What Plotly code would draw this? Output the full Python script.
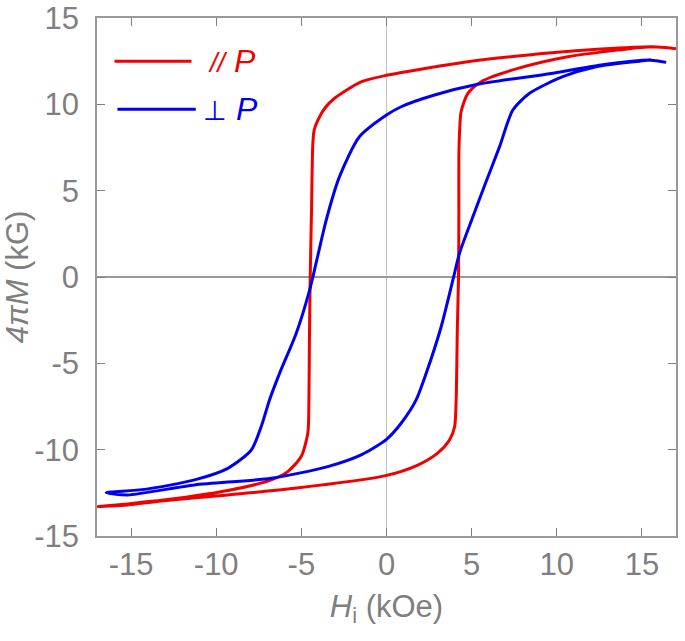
import plotly.graph_objects as go

# parallel to P (red loop): descending branch then ascending branch
par_h = [17.0, 15.6, 12.6, 9.7, 4.76, 0.0, -1.49, -3.05, -3.6, -4.03, -4.25, -4.33,
         -4.4, -4.48, -4.53, -4.56, -4.62, -5.01, -5.8, -6.77, -9.32, -12.25, -15.2, -17.0,
         -15.2, -13.23, -9.32, -5.4, -0.12, 1.84, 3.0, 3.7, 4.0, 4.09, 4.16, 4.23, 4.25,
         4.25, 4.3, 4.38, 4.78, 5.56, 7.71, 10.65, 13.58, 15.6, 17.0]
par_m = [13.22, 13.33, 13.2, 12.99, 12.47, 11.68, 11.3, 10.35, 9.8, 9.09, 8.5, 7.64,
         4.0, 0.0, -4.0, -7.5, -9.05, -10.4, -11.27, -11.75, -12.37, -12.82, -13.14, -13.3,
         -13.2, -12.97, -12.62, -12.24, -11.52, -10.89, -10.2, -9.44, -8.67, -7.12, -3.0, 0.0, 4.0,
         7.0, 8.6, 9.57, 10.63, 11.31, 12.08, 12.76, 13.14, 13.33, 13.22]

# perpendicular to P (blue loop)
perp_h = [16.42, 15.54, 12.6, 9.67, 5.36, 2.82, 0.86, 0.0, -1.59, -2.76, -3.54, -4.23,
          -4.52, -5.3, -6.28, -6.87, -7.36, -7.94, -9.32, -11.27, -14.2, -16.46,
          -15.2, -11.27, -6.77, -3.45, -1.49, 0.0, 0.86, 1.74, 2.33, 3.21, 3.9, 4.29,
          5.0, 5.8, 6.64, 7.42, 8.4, 10.35, 12.3, 14.86, 15.54, 16.42]
perp_m = [12.43, 12.56, 12.28, 11.79, 11.16, 10.54, 9.86, 9.38, 8.12, 5.81, 3.3, 0.4,
          -0.77, -3.26, -5.58, -7.12, -8.67, -10.02, -11.08, -11.75, -12.3, -12.49,
          -12.62, -12.04, -11.66, -10.98, -10.3, -9.4, -8.47, -7.12, -5.58, -2.88, -0.17, 1.39,
          3.3, 5.4, 7.55, 9.67, 10.64, 11.6, 12.18, 12.5, 12.56, 12.43]

x_ticks = [-15, -10, -5, 0, 5, 10, 15]
x_labels = ["-15", "-10", "-5", "0", "5", "10", "15"]
y_ticks = [-15, -10, -5, 0, 5, 10, 15]
y_labels = ["-15", "-10", "-5", "0", "5", "10", "15"]

red = "#f00000"
blue = "#0000f0"
grey = "#7f7f7f"
font = "Liberation Sans, Arial, sans-serif"

fig = go.Figure()

fig.add_trace(go.Scatter(x=par_h, y=par_m, mode="lines", name="// P",
                         line=dict(color=red, width=3, shape="spline", smoothing=0.7)))
fig.add_trace(go.Scatter(x=perp_h, y=perp_m, mode="lines", name="⊥ P",
                         line=dict(color=blue, width=3, shape="spline", smoothing=0.7)))

# hand drawn legend, like the original
fig.add_shape(type="line", xref="x", yref="y", x0=-15.97, x1=-11.45, y0=12.5, y1=12.5,
              line=dict(color=red, width=3))
fig.add_shape(type="line", xref="x", yref="y", x0=-15.8, x1=-11.2, y0=9.72, y1=9.72,
              line=dict(color=blue, width=3))
fig.add_annotation(x=-10.6, y=12.5, xref="x", yref="y", xanchor="left", showarrow=False,
                   text="<i><span style='font-size:27px'>//</span> P</i>",
                   font=dict(family=font, size=32, color=red))
fig.add_annotation(x=-10.9, y=9.72, xref="x", yref="y", xanchor="left", showarrow=False,
                   text="<span style='font-size:27px'>⊥</span> <i>P</i>",
                   font=dict(family=font, size=32, color=blue))

fig.update_xaxes(
    range=[-17, 17], tickvals=x_ticks, ticktext=x_labels, automargin=False,
    ticks="inside", ticklen=8, tickcolor=grey, tickwidth=1.3,
    showline=True, linecolor="#999999", linewidth=1.5, mirror="ticks",
    showgrid=False, zeroline=True, zerolinecolor="#c4c4c4", zerolinewidth=1.2,
    tickfont=dict(family=font, size=31, color=grey),
    ticklabelstandoff=0,
    title=dict(text="<i>H</i><sub>i</sub> (kOe)", standoff=14,
               font=dict(family=font, size=31, color=grey)),
)
fig.update_yaxes(
    range=[-15, 15], tickvals=y_ticks, ticktext=y_labels, automargin=False,
    ticks="inside", ticklen=8, tickcolor=grey, tickwidth=1.3,
    showline=True, linecolor="#999999", linewidth=1.5, mirror="ticks",
    showgrid=False, zeroline=True, zerolinecolor="#999999", zerolinewidth=1.5,
    tickfont=dict(family=font, size=31, color=grey),
    ticklabelstandoff=10,
    title=dict(text="<i>4πM</i> (kG)", standoff=10,
               font=dict(family=font, size=31, color=grey)),
)

fig.update_layout(
    width=685, height=641,
    margin=dict(l=97, r=9, t=18, b=105),
    plot_bgcolor="white", paper_bgcolor="white",
    showlegend=False,
)

# drop the default page margin so the figure sits at the window corner
fig.write_html("out.html", config={"displayModeBar": False},
               post_script="document.body.style.margin='0';")
